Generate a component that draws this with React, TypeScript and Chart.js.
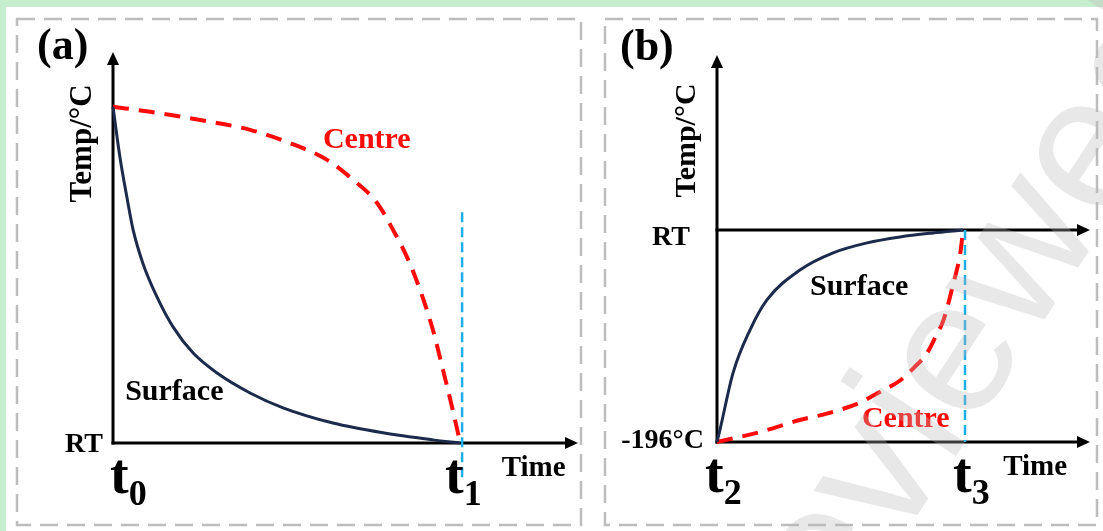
import React, { useEffect, useRef } from "react";
import { Chart, registerables } from "chart.js";

Chart.register(...registerables);

// ---------- DATA ----------
// Panel (a): cooling from start temperature to RT, time t0 (=0) -> t1 (=10); temperature scale 0 = RT
const surfaceA_t = [0, 0.2, 0.4, 0.58, 0.86, 1.27, 1.73, 2.31, 3.0, 3.95, 4.9, 6.34, 7.78, 9.22, 10];
const surfaceA_T = [86, 73.1, 62.9, 54.5, 46.0, 37.3, 29.7, 23.0, 17.9, 12.8, 9.0, 5.1, 2.6, 0.8, 0];
const centreA_t = [0, 1.07, 2.51, 3.95, 5.1, 6.17, 6.92, 7.61, 8.07, 8.47, 8.85, 9.22, 9.51, 9.77, 9.94, 10];
const centreA_T = [86, 84.7, 82.6, 80.1, 76.7, 72.4, 67.3, 61.4, 54.5, 47.6, 39.1, 28.9, 18.7, 9.2, 2.6, 0];
const markerA_t = [10.06, 10.06];
const markerA_T = [59, -9];

// Panel (b): warming from -196°C (=0) to RT (=100), time t2 (=0) -> t3 (=10)
const surfaceB_t = [0, 0.12, 0.65, 1.34, 2.03, 3.37, 4.72, 6.1, 7.44, 8.78, 10];
const surfaceB_T = [0, 5.7, 32.5, 52.8, 67.0, 81.1, 89.2, 93.9, 96.7, 98.6, 100];
const centreB_t = [0, 1.75, 3.4, 4.5, 5.8, 6.6, 7.44, 8.0, 8.54, 8.94, 9.19, 9.59, 9.9, 10];
const centreB_T = [0, 4.7, 10.5, 13.5, 18.5, 23.5, 29, 35, 42, 51, 57, 74, 90, 100];
const markerB_t = [10.08, 10.08];
const markerB_T = [100, 0];

// Tick labels
const yTickLabelsA = ["RT"];
const yTickValuesA = [0];
const yTickLabelsB = ["RT", "-196°C"];
const yTickValuesB = [100, 0];
const timeMarksA = ["0", "1"];
const timeMarkValuesA = [0, 10];
const timeMarksB = ["2", "3"];
const timeMarkValuesB = [0, 10];

// ---------- STYLE ----------
const SERIF = '"Liberation Serif", "Times New Roman", serif';
const SANS = '"Liberation Sans", Arial, sans-serif';
const NAVY = "#1c2b4b";
const RED = "#ff0a0a";
const BLUE = "#1eaee8";

const zip = (xs: number[], ys: number[]) => xs.map((x, i) => ({ x, y: ys[i] }));

function arrow(ctx: CanvasRenderingContext2D, tx: number, ty: number, dir: "up" | "right") {
  const L = 13, W = 6;
  ctx.beginPath();
  if (dir === "up") {
    ctx.moveTo(tx, ty);
    ctx.lineTo(tx - W, ty + L);
    ctx.lineTo(tx + W, ty + L);
  } else {
    ctx.moveTo(tx, ty);
    ctx.lineTo(tx - L, ty - W);
    ctx.lineTo(tx - L, ty + W);
  }
  ctx.closePath();
  ctx.fill();
}

function text(
  ctx: CanvasRenderingContext2D,
  s: string,
  x: number,
  y: number,
  size: number,
  color = "#000",
  align: CanvasTextAlign = "left",
  baseline: CanvasTextBaseline = "alphabetic"
) {
  ctx.font = `bold ${size}px ${SERIF}`;
  ctx.fillStyle = color;
  ctx.textAlign = align;
  ctx.textBaseline = baseline;
  ctx.fillText(s, x, y);
}

type PanelCfg = {
  letter: string;
  letterPos: [number, number];
  border: [number, number, number, number];
  levels: number[];
  titleSize: number;
  titleShift: number;
  yTickLabels: string[];
  yTickValues: number[];
  yTickOffsets: [number, number][];
  timeMarks: string[];
  timeMarkValues: number[];
  timeMarkOffsets: number[];
  timeLabelT: number;
  notes: { s: string; color: string; t: number; T: number }[];
  watermark?: boolean;
};

function makePlugin(cfg: PanelCfg) {
  return {
    id: "panelOverlay",
    beforeDatasetsDraw(chart: any) {
      const { ctx, chartArea } = chart;
      const xs = chart.scales.x, ys = chart.scales.y;
      const x0 = xs.getPixelForValue(0);
      const y0 = ys.getPixelForValue(0);
      ctx.save();
      ctx.strokeStyle = "#000";
      ctx.fillStyle = "#000";
      ctx.lineWidth = 3;
      ctx.setLineDash([]);
      ctx.beginPath();
      ctx.moveTo(x0, y0 + 1.5);
      ctx.lineTo(x0, chartArea.top + 10);
      ctx.stroke();
      arrow(ctx, x0, chartArea.top, "up");
      cfg.levels.forEach((lv) => {
        const yy = ys.getPixelForValue(lv);
        ctx.beginPath();
        ctx.moveTo(x0 - 1.5, yy);
        ctx.lineTo(chartArea.right - 10, yy);
        ctx.stroke();
        arrow(ctx, chartArea.right, yy, "right");
      });
      ctx.restore();
    },
    afterDraw(chart: any) {
      const { ctx, chartArea } = chart;
      const xs = chart.scales.x, ys = chart.scales.y;
      const x0 = xs.getPixelForValue(0);
      const y0 = ys.getPixelForValue(0);
      ctx.save();
      // dashed panel frame
      ctx.strokeStyle = "#bdbdbd";
      ctx.lineWidth = 2.5;
      ctx.setLineDash([18, 9]);
      const [bx, by, bw, bh] = cfg.border;
      ctx.strokeRect(bx, by, bw, bh);
      ctx.setLineDash([]);
      // panel letter
      text(ctx, cfg.letter, cfg.letterPos[0], cfg.letterPos[1], 44);
      // y title
      ctx.save();
      ctx.translate(x0 - 30, (chartArea.top + y0) / 2 - 104 + cfg.titleShift);
      ctx.rotate(-Math.PI / 2);
      text(ctx, "Temp/°C", 0, 0, cfg.titleSize, "#000", "center", "middle");
      ctx.restore();
      // y tick labels
      cfg.yTickLabels.forEach((s, i) => {
        const yy = ys.getPixelForValue(cfg.yTickValues[i]);
        const [dx, dy] = cfg.yTickOffsets[i];
        text(ctx, s, x0 + dx, yy + dy, 28, "#000", "right", "middle");
      });
      // time marks t_n
      cfg.timeMarks.forEach((sub, i) => {
        const px = xs.getPixelForValue(cfg.timeMarkValues[i]) + cfg.timeMarkOffsets[i];
        ctx.font = `bold 56px ${SERIF}`;
        const w = ctx.measureText("t").width;
        text(ctx, "t", px, y0 + 50, 56);
        text(ctx, sub, px + w, y0 + 62, 36);
      });
      // Time
      text(ctx, "Time", xs.getPixelForValue(cfg.timeLabelT), y0 + 33, 29);
      // curve notes
      cfg.notes.forEach((n) => {
        text(ctx, n.s, xs.getPixelForValue(n.t), ys.getPixelForValue(n.T), 30, n.color);
      });
      if (cfg.watermark) {
        ctx.save();
        ctx.translate(173, 750);
        ctx.rotate((-57 * Math.PI) / 180);
        ctx.font = `190px ${SANS}`;
        ctx.fillStyle = "rgba(185,185,185,0.32)";
        ctx.textAlign = "left";
        ctx.textBaseline = "alphabetic";
        ctx.fillText("Reviewed", 0, 0);
        ctx.restore();
      }
      ctx.restore();
    },
  };
}

function lineDs(data: { x: number; y: number }[], color: string, width: number, dash: number[], mono = true) {
  return {
    data,
    borderColor: color,
    borderWidth: width,
    borderDash: dash,
    pointRadius: 0,
    fill: false,
    clip: false as any,
    tension: mono ? 0.4 : 0,
    cubicInterpolationMode: mono ? ("monotone" as const) : ("default" as const),
  };
}

function makeChart(canvas: HTMLCanvasElement, datasets: any[], padding: any, xMax: number, yMax: number, cfg: PanelCfg) {
  return new Chart(canvas, {
    type: "line",
    data: { datasets },
    options: {
      responsive: false,
      animation: false,
      events: [],
      layout: { padding },
      plugins: { legend: { display: false }, tooltip: { enabled: false } },
      scales: {
        x: { type: "linear", min: 0, max: xMax, display: false },
        y: { type: "linear", min: 0, max: yMax, display: false },
      },
    },
    plugins: [makePlugin(cfg) as any],
  });
}

export default function App() {
  const refA = useRef<HTMLCanvasElement>(null);
  const refB = useRef<HTMLCanvasElement>(null);

  useEffect(() => {
    const cfgA: PanelCfg = {
      letter: "(a)",
      letterPos: [37, 59],
      border: [17, 19, 564, 506],
      levels: [0],
      titleSize: 31,
      titleShift: 0,
      yTickLabels: yTickLabelsA,
      yTickValues: yTickValuesA,
      yTickOffsets: [[-10, 2]],
      timeMarks: timeMarksA,
      timeMarkValues: timeMarkValuesA,
      timeMarkOffsets: [-3, -15],
      timeLabelT: 11.2,
      notes: [
        { s: "Centre", color: RED, t: 6.05, T: 75.4 },
        { s: "Surface", color: "#000", t: 0.35, T: 11.0 },
      ],
    };
    const cfgB: PanelCfg = {
      letter: "(b)",
      letterPos: [28, 60],
      border: [13, 19, 492, 506],
      levels: [0, 100],
      titleSize: 30,
      titleShift: -4,
      yTickLabels: yTickLabelsB,
      yTickValues: yTickValuesB,
      yTickOffsets: [[-27, 8], [-13, -1]],
      timeMarks: timeMarksB,
      timeMarkValues: timeMarkValuesB,
      timeMarkOffsets: [-12, -10],
      timeLabelT: 11.63,
      notes: [
        { s: "Surface", color: "#000", t: 3.78, T: 69.3 },
        { s: "Centre", color: RED, t: 5.89, T: 7.1 },
      ],
      watermark: true,
    };
    const chartA = makeChart(
      refA.current!,
      [
        lineDs(zip(markerA_t, markerA_T), BLUE, 2.5, [10, 5], false),
        lineDs(zip(surfaceA_t, surfaceA_T), NAVY, 3, []),
        lineDs(zip(centreA_t, centreA_T), RED, 4, [16, 10]),
      ],
      { left: 113, right: 14, top: 52, bottom: 88 },
      13.4,
      100,
      cfgA
    );
    const chartB = makeChart(
      refB.current!,
      [
        lineDs(zip(markerB_t, markerB_T), BLUE, 2.5, [10, 5], false),
        lineDs(zip(surfaceB_t, surfaceB_T), NAVY, 3, []),
        lineDs(zip(centreB_t, centreB_T), RED, 4, [16, 10]),
      ],
      { left: 125, right: 13, top: 55, bottom: 89 },
      15.16,
      182.5,
      cfgB
    );
    return () => {
      chartA.destroy();
      chartB.destroy();
    };
  }, []);

  return (
    <div style={{ position: "absolute", left: 0, top: 0, width: 1103, height: 531, background: "#c7edcf", overflow: "hidden" }}>
      <div style={{ position: "absolute", left: 6, top: 7, right: 0, bottom: 0, background: "#fff" }} />
      <canvas ref={refA} width={592} height={531} style={{ position: "absolute", left: 0, top: 0, width: 592, height: 531 }} />
      <canvas ref={refB} width={511} height={531} style={{ position: "absolute", left: 592, top: 0, width: 511, height: 531 }} />
    </div>
  );
}
